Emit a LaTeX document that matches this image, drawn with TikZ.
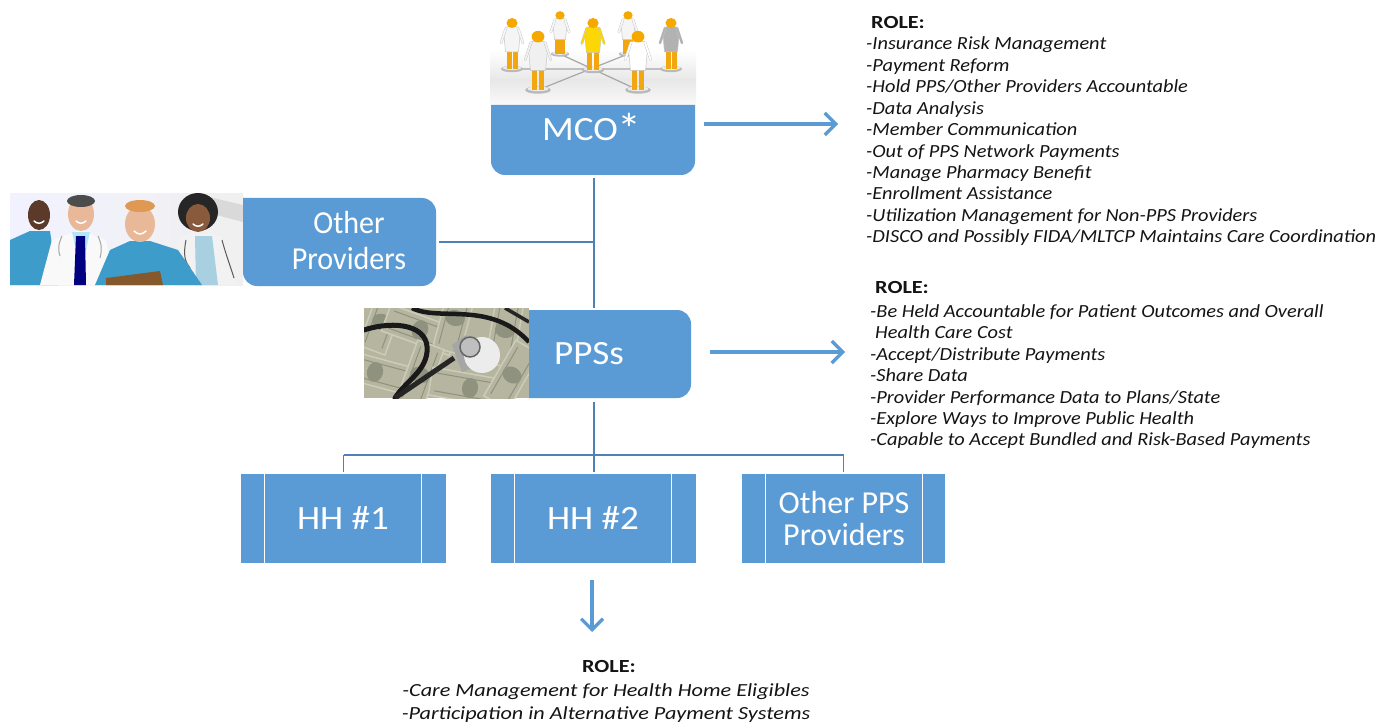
\documentclass[tikz,border=0pt]{standalone}
\usepackage{fontspec}
\setmainfont{Carlito}
\newfontfamily\rolefont[FakeStretch=1.1]{Carlito}
\newfontfamily\rolewide[FakeStretch=1.2]{Carlito}
\newfontfamily\boxwide[FakeStretch=1.09]{Carlito}
\newfontfamily\boxnarrow[FakeStretch=0.94]{Carlito}
\usetikzlibrary{arrows.meta,backgrounds,calc}
\definecolor{boxblue}{HTML}{5B9BD5}
\definecolor{linkblue}{HTML}{4F81B8}
\definecolor{rolegrey}{HTML}{141414}
\definecolor{legor}{HTML}{F2A60F}
\definecolor{heador}{HTML}{F5A800}
\definecolor{scrub}{HTML}{3E9CCB}
\definecolor{shirt}{HTML}{A8D0E0}
\definecolor{skinA}{HTML}{5B3A2A}
\definecolor{skinB}{HTML}{E8B898}
\definecolor{skinC}{HTML}{8A5A3C}
\definecolor{moneyA}{HTML}{B5B5A0}
\definecolor{moneyB}{HTML}{CDCCB8}
\definecolor{moneyC}{HTML}{8F927E}
\tikzset{
  x=1pt,y=-1pt,
  boxgeo/.style={inner sep=0pt,outer sep=0pt,minimum width=#1},
  boxtext/.style={text=white,align=center,inner sep=0pt,font=\boxwide\fontsize{34}{37}\selectfont},
  rolelist/.style={text=rolegrey,align=left,inner sep=0pt,anchor=north west,
     font=\rolefont\fontsize{18.5}{21.45}\selectfont\itshape},
  linkline/.style={draw=linkblue,line width=1.8pt},
  outarrow/.style={draw=boxblue,line width=3.2pt,-{Straight Barb[length=11pt,width=22pt,line width=3.2pt]}},
  divider/.style={draw=white,line width=1.5pt},
  bill/.style={fill=moneyA,draw=moneyB,line width=1.5pt}
}
\newcommand{\docfig}[5]{% x, base y, height, coat colour, leg colour
  \begin{scope}[shift={(#1,#2)},x=#3/50*1pt,y=-#3/50*1pt]
    \fill[gray!55] (0,0) ellipse [x radius=11,y radius=3.2];
    \fill[white!85!gray] (0,-1) ellipse [x radius=9,y radius=2];
    \fill[#5] (-5.5,0) rectangle (-.5,-19);
    \fill[#5] (.5,0) rectangle (5.5,-19);
    \fill[#4,draw=gray!45,line width=.5pt] (-6.5,-17) -- (-8,-33) -- (-5,-42) -- (5,-42) -- (8,-33) -- (6.5,-17) -- cycle;
    \draw[gray!45,line width=2.6pt,line cap=round] (-6,-41) -- (-11,-26);
    \draw[gray!45,line width=2.6pt,line cap=round] (6,-41) -- (11,-26);
    \draw[#4,line width=1.8pt,line cap=round] (-6,-41) -- (-11,-26);
    \draw[#4,line width=1.8pt,line cap=round] (6,-41) -- (11,-26);
    \fill[heador] (0,-46) ellipse [x radius=5.5,y radius=5];
  \end{scope}}
\begin{document}
\begin{tikzpicture}
\useasboundingbox (0,0) rectangle (1383,722);
\fill[white] (0,0) rectangle (1383,722);

% MCO photograph
\begin{scope}
  \clip (490,0) rectangle (696,106);
  \shade[top color=white,bottom color=black!9] (490,50) rectangle (696,80);
  \shade[top color=black!9,bottom color=black!2] (490,80) rectangle (696,106);
  \draw[gray!70,line width=1.2pt] (512,69) -- (671,69) (538,90) -- (628,54) (638,90) -- (560,54);
  \docfig{560}{54}{42}{white!92!gray}{legor}
  \docfig{628}{54}{42}{white!92!gray}{legor}
  \docfig{512}{69}{50}{white!92!gray}{legor}
  \docfig{671}{69}{50}{gray!60}{legor}
  \docfig{593}{70}{51}{yellow!75!orange}{legor}
  \docfig{538}{90}{58}{white!88!gray}{legor}
  \docfig{638}{90}{58}{white}{legor}
\end{scope}

% Other providers photograph
\begin{scope}
  \clip (10,194) rectangle (243,285);
  \shade[left color=blue!5!white,right color=gray!12] (10,194) rectangle (243,285);
  \fill[gray!30] (205,196) -- (243,205) -- (243,222) -- (205,212) -- cycle;
  % person 1
  \fill[scrub] (10,240) -- (30,231) -- (50,231) -- (58,285) -- (10,285) -- cycle;
  \fill[skinA] (39,215) ellipse [x radius=11,y radius=15];
  \draw[white,line width=1.5pt,line cap=round] (34,221) .. controls (37,224) and (41,224) .. (44,221);
  % person 4
  \fill[white!90!gray] (178,238) -- (192,232) -- (222,236) -- (236,285) -- (178,285) -- cycle;
  \fill[shirt] (195,236) -- (212,236) -- (218,285) -- (196,285) -- cycle;
  \fill[black!85] (198,212) ellipse [x radius=20,y radius=19];
  \fill[skinC] (198,218) ellipse [x radius=12,y radius=14];
  \draw[white,line width=1.5pt,line cap=round] (193,224) .. controls (196,227) and (200,227) .. (203,224);
  \draw[black!65,line width=1pt] (186,240) .. controls (183,255) and (185,262) .. (190,268) (222,240) .. controls (226,255) and (230,265) .. (234,278);
  % person 2
  \fill[white!95!gray] (40,285) -- (52,240) -- (80,230) -- (106,240) -- (115,285) -- cycle;
  \fill[cyan!30!white] (72,232) -- (90,232) -- (86,250) -- (76,250) -- cycle;
  \fill[blue!50!black] (76,236) -- (85,236) -- (86,285) -- (74,285) -- cycle;
  \fill[skinB] (81,214) ellipse [x radius=13,y radius=17];
  \fill[black!70] (81,201) ellipse [x radius=14,y radius=6];
  \draw[white,line width=1.5pt,line cap=round] (76,221) .. controls (79,224) and (83,224) .. (86,221);
  \draw[gray!70,line width=1pt] (62,236) .. controls (58,245) and (58,250) .. (60,256) (98,236) .. controls (102,245) and (102,250) .. (100,258);
  % person 3
  \fill[scrub] (95,285) -- (110,250) -- (130,241) -- (150,241) -- (178,250) -- (202,285) -- cycle;
  \fill[brown!70!black] (106,278) -- (160,271) -- (163,285) -- (106,285) -- cycle;
  \fill[skinB] (140,224) ellipse [x radius=15,y radius=18];
  \fill[orange!40!brown!80!white] (140,206) ellipse [x radius=15,y radius=6];
  \draw[white,line width=1.5pt,line cap=round] (134,231) .. controls (138,235) and (142,235) .. (146,231);
\end{scope}

% PPS photograph
\begin{scope}
  \clip (364,308) rectangle (529,398);
  \fill[moneyA] (364,308) rectangle (529,398);
  \foreach \mx/\my/\ang/\sx in {382/322/70/30,420/330/-20/36,455/318/75/34,505/330/80/36,375/372/-15/34,420/375/70/32,470/388/-10/40,512/375/60/32}{
    \begin{scope}[shift={(\mx,\my)},rotate=\ang]
      \filldraw[bill] (-\sx,-14) rectangle (\sx,14);
      \fill[moneyC] (0,0) ellipse [x radius=8,y radius=10];
      \draw[moneyC,line width=1pt] (-\sx+5,-9) -- (\sx-5,-9) (-\sx+5,9) -- (\sx-5,9);
    \end{scope}
  }
  \draw[black!90,line width=5pt,line cap=round] (364,330) .. controls (395,320) and (430,325) .. (427,352) .. controls (425,372) and (405,382) .. (395,398);
  \draw[black!90,line width=4.5pt] (412,308) .. controls (440,322) and (490,300) .. (529,342);
  \draw[black!85,line width=3.5pt] (505,308) -- (529,322);
  \draw[black!85,line width=5pt] (395,398) -- (454,358);
  \fill[gray!70] (452,345) -- (466,335) -- (480,365) -- (462,372) -- cycle;
  \fill[white!85!gray] (482,355) ellipse [x radius=18,y radius=18];
  \fill[gray!50,draw=black!60,line width=1.5pt] (470,347) circle [radius=10];
\end{scope}

% Boxes
\node[boxgeo=204pt,minimum height=70pt] (mco) at (593,140) {};
\node[boxgeo=193pt,minimum height=88pt] (other) at (339.5,242) {};
\node[boxgeo=327pt,minimum height=88pt] (pps) at (527.5,354) {};
\node[boxgeo=205pt,minimum height=89pt] (hhone) at (343.5,518.5) {};
\node[boxgeo=205pt,minimum height=89pt] (hhtwo) at (593.5,518.5) {};
\node[boxgeo=203pt,minimum height=89pt] (hhoth) at (843.5,518.5) {};

\fill[boxblue,rounded corners=14pt] (mco.north west) [sharp corners] -- (mco.north east) [rounded corners=14pt] -- (mco.south east) -- (mco.south west) [sharp corners] -- cycle;
\fill[boxblue,rounded corners=14pt] (other.north west) [sharp corners] -- ($(other.north west)+(30,0)$) [rounded corners=14pt] -- (other.north east) -- (other.south east) -- ($(other.south west)+(0,0)$) [sharp corners] -- cycle;
\fill[boxblue,rounded corners=14pt] (529,310) -- (pps.north east) -- (pps.south east) [sharp corners] -- (529,398) -- cycle;
\foreach \n in {hhone,hhtwo,hhoth}{
  \fill[boxblue] (\n.north west) rectangle (\n.south east);
  \draw[divider] ($(\n.north west)+(23.5,0)$) -- ($(\n.south west)+(23.5,0)$);
}
\draw[divider] ($(hhone.north east)+(-24.5,0)$) -- ($(hhone.south east)+(-24.5,0)$);
\draw[divider] ($(hhtwo.north east)+(-24.5,0)$) -- ($(hhtwo.south east)+(-24.5,0)$);
\draw[divider] ($(hhoth.north east)+(-22.5,0)$) -- ($(hhoth.south east)+(-22.5,0)$);

% Box labels
\node[boxtext] (mcotxt) at (592,129) {MCO\raisebox{-4pt}{\fontsize{44}{44}\selectfont *}};
\node[boxtext,font=\boxnarrow\fontsize{32}{36}\selectfont] (othertxt) at (349,241) {Other\\Providers};
\node[boxtext] (ppstxt) at (589,354) {PPSs};
\node[boxtext] (hhonetxt) at (343,518) {HH \#1};
\node[boxtext] (hhtwotxt) at (593,518) {HH \#2};
\node[boxtext,font=\fontsize{32}{32}\selectfont] (hhothtxt) at (844,519) {Other PPS\\Providers};

% Connectors
\coordinate (busy) at (594,455);
\draw[linkline,shorten <=3pt,shorten >=2pt] (594,175) -- (594,310);
\draw[linkline,shorten <=3pt] (other.east) -- (other.east -| 594,0);
\draw[linkline,shorten <=4pt,shorten >=2pt] (594,398) -- (hhtwo.north -| 594,0);
\draw[linkline] (hhone.north |- busy) -- (hhoth.north |- busy);
\draw[linkline,shorten >=2pt] (hhone.north |- busy) -- (hhone.north);
\draw[linkline,shorten >=2pt] (hhoth.north |- busy) -- (hhoth.north);

% Role arrows
\coordinate (mcoout) at (704,124);
\coordinate (mcorole) at (838,124);
\coordinate (ppsout) at (710,352);
\coordinate (ppsrole) at (845,352);
\coordinate (hhout) at (592,580);
\coordinate (hhrole) at (592,632);
\draw[outarrow] (mcoout) -- (mcorole);
\draw[outarrow] (ppsout) -- (ppsrole);
\draw[outarrow] (hhout) -- (hhrole);

% Role texts
\node[rolelist] (rolea) at (866,16) {\hspace*{5pt}{\rolewide\textbf{\upshape ROLE:}}\\
-Insurance Risk Management\\
-Payment Reform\\
-Hold PPS/Other Providers Accountable\\
-Data Analysis\\
-Member Communication\\
-Out of PPS Network Payments\\
-Manage Pharmacy Benefit\\
-Enrollment Assistance\\
-Utilization Management for Non-PPS Providers\\
-DISCO and Possibly FIDA/MLTCP Maintains Care Coordination};
\node[rolelist] (roleb) at (870,281) {\hspace*{5pt}{\rolewide\textbf{\upshape ROLE:}}\\[2.5pt]
-Be Held Accountable for Patient Outcomes and Overall\\
\hspace*{5pt}Health Care Cost\\
-Accept/Distribute Payments\\
-Share Data\\
-Provider Performance Data to Plans/State\\
-Explore Ways to Improve Public Health\\
-Capable to Accept Bundled and Risk-Based Payments};
\node[rolelist,align=center,anchor=north,font=\rolewide\fontsize{18.5}{23}\selectfont\itshape] (rolec) at (606,660) {\hspace*{6pt}\textbf{\upshape ROLE:}\\[1pt]
-Care Management for Health Home Eligibles\\
-Participation in Alternative Payment Systems};
\end{tikzpicture}
\end{document}
